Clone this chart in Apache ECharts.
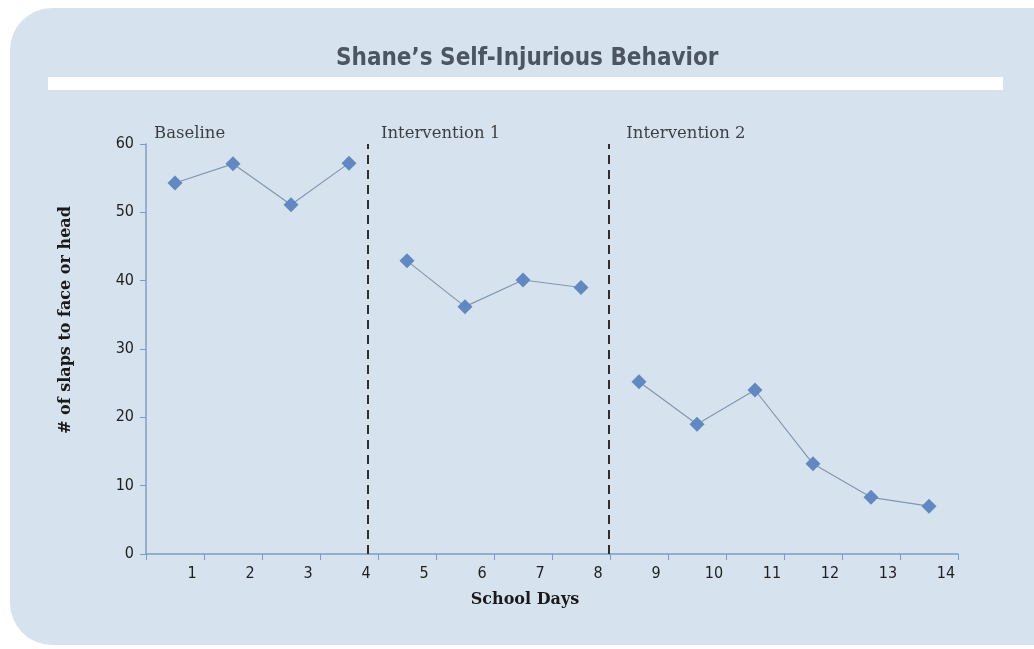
<!DOCTYPE html>
<html>
<head>
<meta charset="utf-8">
<script src="https://cdn.jsdelivr.net/npm/echarts@6/dist/echarts.min.js"></script>
<style>
html,body{margin:0;padding:0;background:#ffffff;}
#chart{width:1034px;height:649px;}
</style>
</head>
<body>
<div id="chart"></div>
<script>
const titleText = "Shane\u2019s Self-Injurious Behavior";
const days = ["1","2","3","4","5","6","7","8","9","10","11","12","13","14"];
const slaps = [54.3, 57.1, 51.1, 57.2, 42.9, 36.2, 40.1, 39.0, 25.2, 19.0, 24.0, 13.2, 8.3, 7.0];
const phaseNames = ["Baseline", "Intervention 1", "Intervention 2"];
const phaseStartIndex = [0, 4, 8];
const phaseLabelX = [0.14, 4.05, 8.28];
const phaseLabelY = 61.5;
const phaseLines = [3.83, 7.98];
const yTicks = [0, 10, 20, 30, 40, 50, 60];

const chart = echarts.init(document.getElementById('chart'));
const serifFont = "'DejaVu Serif', 'Liberation Serif', serif";
const condFont = "'DejaVu Sans Condensed', 'Liberation Sans Narrow', 'Liberation Sans', sans-serif";

// one line series per phase so the line breaks between phases
const phaseSeries = phaseStartIndex.map((start, p) => {
  const end = p + 1 < phaseStartIndex.length ? phaseStartIndex[p + 1] : slaps.length;
  return {
    type: 'line',
    name: phaseNames[p],
    data: slaps.map((v, i) => (i >= start && i < end) ? v : '-'),
    symbol: 'diamond',
    symbolSize: 15,
    itemStyle: { color: '#6188c0' },
    lineStyle: { color: '#8297ad', width: 1.2 },
    connectNulls: false,
    z: 5
  };
});

chart.setOption({
  animation: false,
  backgroundColor: '#ffffff',
  graphic: [
    { type: 'rect', z: -10, shape: { x: 10, y: 8, width: 1030, height: 637, r: [42, 0, 0, 42] },
      style: { fill: '#d6e3ef' } },
    { type: 'rect', z: -9, shape: { x: 48, y: 77, width: 955, height: 13 },
      style: { fill: '#ffffff' } }
  ],
  title: {
    text: titleText,
    left: 331,
    top: 42,
    textStyle: { fontFamily: condFont, fontWeight: 'bold', fontSize: 24, color: '#4b5662' }
  },
  grid: { left: 146, right: 76, top: 144, bottom: 95, containLabel: false },
  xAxis: [
    {
      type: 'category',
      data: days,
      boundaryGap: true,
      name: 'School Days',
      nameLocation: 'middle',
      nameGap: 38,
      nameTextStyle: { fontFamily: serifFont, fontWeight: 'bold', fontSize: 16, color: '#1a1a1a', padding: [0, 54, 0, 0] },
      axisLine: { lineStyle: { color: '#7d9cc4', width: 1.5 } },
      axisTick: { show: true, length: 6, lineStyle: { color: '#7d9cc4' } },
      axisLabel: { fontFamily: condFont, fontSize: 16, color: '#1f1f1f', margin: 12, padding: [0, 0, 0, 34] },
      splitLine: { show: false }
    },
    {
      type: 'value', min: 0, max: 14, show: false
    }
  ],
  yAxis: {
    type: 'value',
    min: 0, max: 60, interval: 10,
    name: '# of slaps to face or head',
    nameLocation: 'middle',
    nameGap: 72,
    nameRotate: 90,
    nameTextStyle: { fontFamily: serifFont, fontWeight: 'bold', fontSize: 16, color: '#1a1a1a', padding: [0, 0, 0, 58] },
    axisLine: { show: true, lineStyle: { color: '#7d9cc4', width: 1.5 } },
    axisTick: { show: true, length: 6, lineStyle: { color: '#7d9cc4' } },
    axisLabel: { fontFamily: condFont, fontSize: 16, color: '#1f1f1f', margin: 12,
      formatter: v => yTicks.includes(v) ? String(v) : '' },
    splitLine: { show: false }
  },
  series: phaseSeries.concat([
    {
      type: 'scatter',
      xAxisIndex: 1,
      data: [],
      markLine: {
        symbol: ['none', 'none'],
        silent: true,
        label: { show: false },
        lineStyle: { color: '#2e2e2e', type: [9, 6], width: 2 },
        data: phaseLines.map(x => ({ xAxis: x }))
      }
    },
    {
      type: 'scatter',
      xAxisIndex: 1,
      clip: false,
      symbolSize: 0,
      silent: true,
      data: phaseNames.map((n, i) => ({ value: [phaseLabelX[i], phaseLabelY], name: n })),
      label: {
        show: true, position: 'right', distance: 0,
        formatter: p => p.name,
        fontFamily: serifFont, fontSize: 16.5, color: '#141414'
      }
    }
  ])
});
</script>
</body>
</html>
